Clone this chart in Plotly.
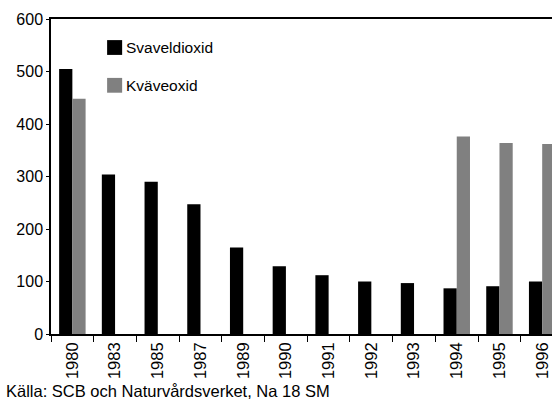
import plotly.graph_objects as go

years = ["1980", "1983", "1985", "1987", "1989", "1990", "1991",
         "1992", "1993", "1994", "1995", "1996"]
svaveldioxid = [505, 304, 290, 247, 165, 129, 112, 100, 97, 87, 91, 100]
kvaveoxid = [448, None, None, None, None, None, None, None, None, 376, 364, 362]

series = [("Svaveldioxid", svaveldioxid, "#000000"),
          ("Kväveoxid", kvaveoxid, "#808080")]

FONT = "Liberation Sans Narrow, Arial Narrow, Liberation Sans, sans-serif"

fig = go.Figure()
for name, vals, col in series:
    fig.add_trace(go.Bar(x=years, y=vals, name=name, showlegend=False,
                         marker=dict(color=col, line=dict(width=0))))

# hand-drawn legend (large squares, wide spacing as in the original)
shapes = []
annotations = []
for n, (name, _, col) in enumerate(series):
    top = 0.933 - n * 0.12
    shapes.append(dict(type="rect", xref="paper", yref="paper",
                       x0=0.112, x1=0.142, y0=top - 0.047, y1=top,
                       fillcolor=col, line=dict(width=0)))
    annotations.append(dict(text=name, xref="paper", yref="paper",
                            x=0.146, y=top - 0.024, xanchor="left",
                            yanchor="middle", showarrow=False,
                            font=dict(size=15.5)))

annotations.append(dict(
    text="Källa: SCB och Naturvårdsverket, Na 18 SM",
    xref="paper", yref="paper", x=-0.094, y=-0.147,
    xanchor="left", yanchor="top", showarrow=False,
    font=dict(size=16.5, family="Liberation Sans, Arial, sans-serif"),
))

fig.update_layout(
    width=552, height=403,
    margin=dict(l=51, r=0, t=19, b=69),
    plot_bgcolor="white", paper_bgcolor="white",
    barmode="group", bargap=0.38, bargroupgap=0,
    font=dict(family=FONT, size=15, color="#000000"),
    showlegend=False,
    shapes=shapes,
    annotations=annotations,
    xaxis=dict(
        type="category", range=[-0.5, 11.23], automargin=False,
        showline=True, linecolor="#000000", linewidth=1.5, mirror=True,
        ticks="outside", tickson="boundaries", ticklen=6,
        tickcolor="#000000", tickangle=-90,
        tickfont=dict(size=16.5), showgrid=False,
    ),
    yaxis=dict(
        range=[0, 600], dtick=100, automargin=False,
        showline=True, linecolor="#000000", linewidth=1.5,
        ticks="outside", ticklen=3, tickcolor="#000000",
        showgrid=False, zeroline=False, tickfont=dict(size=16),
    ),
)

fig.write_html("out.html", config={"displayModeBar": False},
               post_script="document.body.style.margin='0';")
